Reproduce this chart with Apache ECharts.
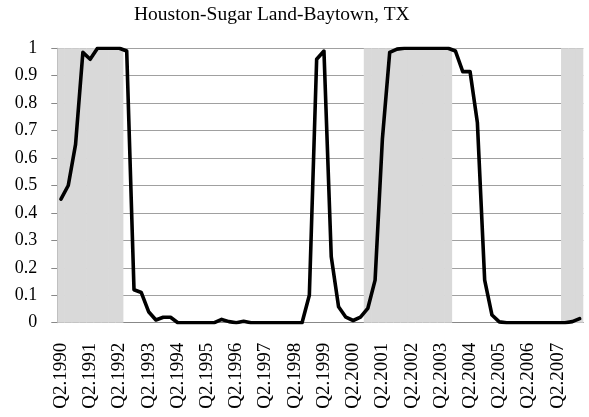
<!DOCTYPE html>
<html>
<head>
<meta charset="utf-8">
<script src="https://cdn.jsdelivr.net/npm/echarts@6/dist/echarts.min.js"></script>
<style>
  html, body { margin: 0; padding: 0; background: #fff; }
  #chart { width: 589px; height: 417px; }
</style>
</head>
<body>
<div id="chart"></div>
<script>
const quarters = [
  "Q2.1990","Q3.1990","Q4.1990","Q1.1991","Q2.1991","Q3.1991","Q4.1991","Q1.1992",
  "Q2.1992","Q3.1992","Q4.1992","Q1.1993","Q2.1993","Q3.1993","Q4.1993","Q1.1994",
  "Q2.1994","Q3.1994","Q4.1994","Q1.1995","Q2.1995","Q3.1995","Q4.1995","Q1.1996",
  "Q2.1996","Q3.1996","Q4.1996","Q1.1997","Q2.1997","Q3.1997","Q4.1997","Q1.1998",
  "Q2.1998","Q3.1998","Q4.1998","Q1.1999","Q2.1999","Q3.1999","Q4.1999","Q1.2000",
  "Q2.2000","Q3.2000","Q4.2000","Q1.2001","Q2.2001","Q3.2001","Q4.2001","Q1.2002",
  "Q2.2002","Q3.2002","Q4.2002","Q1.2003","Q2.2003","Q3.2003","Q4.2003","Q1.2004",
  "Q2.2004","Q3.2004","Q4.2004","Q1.2005","Q2.2005","Q3.2005","Q4.2005","Q1.2006",
  "Q2.2006","Q3.2006","Q4.2006","Q1.2007","Q2.2007","Q3.2007","Q4.2007","Q1.2008"
];

const probability = [
  0.45, 0.50, 0.65, 0.985, 0.96, 1.0, 1.0, 1.0,
  1.0, 0.99, 0.12, 0.11, 0.04, 0.01, 0.02, 0.02,
  0, 0, 0, 0, 0, 0, 0.012, 0.004,
  0, 0.005, 0, 0, 0, 0, 0, 0,
  0, 0, 0.10, 0.96, 0.99, 0.24, 0.058, 0.02,
  0.008, 0.02, 0.052, 0.155, 0.67, 0.985, 0.997, 1.0,
  1.0, 1.0, 1.0, 1.0, 1.0, 1.0, 0.99, 0.915,
  0.915, 0.73, 0.155, 0.028, 0.003, 0, 0, 0,
  0, 0, 0, 0, 0, 0, 0.004, 0.015
];

// shaded periods, first and last quarter of each
const recessions = [
  ["Q2.1990", "Q2.1992"],
  ["Q4.2000", "Q3.2003"],
  ["Q3.2007", "Q1.2008"]
];

const shaded = quarters.map((q, i) => {
  const inside = recessions.some(([a, b]) =>
    i >= quarters.indexOf(a) && i <= quarters.indexOf(b));
  return inside ? 1 : "-";
});

const font = '"Liberation Serif", "Times New Roman", serif';
const chart = echarts.init(document.getElementById("chart"), null, { renderer: "canvas" });

chart.setOption({
  animation: false,
  backgroundColor: "#fff",
  title: {
    text: "Houston-Sugar Land-Baytown, TX",
    left: 129,
    top: 0,
    textStyle: { fontFamily: font, fontSize: 19.5, fontWeight: "normal", color: "#000" }
  },
  grid: { left: 57.3, right: 5.7, top: 48.3, bottom: 94.3, containLabel: false },
  xAxis: {
    type: "category",
    data: quarters,
    boundaryGap: true,
    axisLine: { lineStyle: { color: "#888", width: 1 } },
    axisTick: { interval: 1, length: 5, lineStyle: { color: "#888" } },
    axisLabel: {
      interval: 3,
      rotate: 90,
      margin: 20,
      fontFamily: font,
      fontSize: 19,
      color: "#000"
    },
    splitLine: { show: false }
  },
  yAxis: {
    type: "value",
    min: 0,
    max: 1,
    interval: 0.1,
    axisLine: { show: true, lineStyle: { color: "#888", width: 1 } },
    axisTick: { show: true, length: 6, lineStyle: { color: "#888" } },
    axisLabel: { margin: 20, fontFamily: font, fontSize: 18, color: "#000" },
    splitLine: { lineStyle: { color: "#a0a0a0", width: 1.2 } }
  },
  series: [
    {
      type: "bar",
      data: shaded,
      barWidth: 8,
      barCategoryGap: "0%",
      itemStyle: { color: "#d9d9d9" },
      silent: true,
      z: 1
    },
    {
      type: "line",
      data: probability,
      symbol: "none",
      lineStyle: { color: "#000", width: 3.6, join: "round", cap: "round" },
      z: 3
    }
  ]
});
</script>
</body>
</html>
